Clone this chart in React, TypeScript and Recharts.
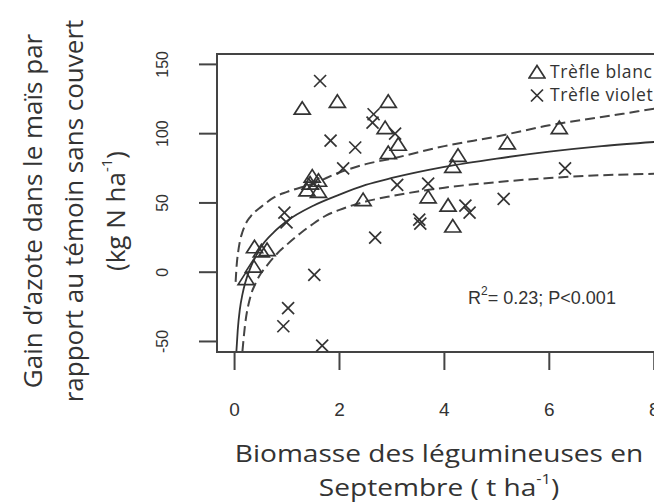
import React from "react";
import {
  ComposedChart,
  Line,
  Scatter,
  XAxis,
  YAxis,
  ReferenceArea,
  Legend,
} from "recharts";

// points (biomass t/ha, N gain kg/ha)
const trefleBlanc = [
  { x: 1.29, y: 118 }, { x: 1.96, y: 123 }, { x: 2.93, y: 123 },
  { x: 2.87, y: 104 }, { x: 3.12, y: 92 }, { x: 2.93, y: 86 },
  { x: 1.48, y: 69 }, { x: 1.6, y: 66 }, { x: 1.44, y: 64 },
  { x: 1.38, y: 59 }, { x: 1.6, y: 58 }, { x: 2.45, y: 52 },
  { x: 3.69, y: 54 }, { x: 4.07, y: 48 }, { x: 4.16, y: 33 },
  { x: 4.16, y: 76 }, { x: 4.26, y: 84 }, { x: 5.2, y: 93 },
  { x: 6.19, y: 104 }, { x: 0.38, y: 18 }, { x: 0.51, y: 15 },
  { x: 0.62, y: 16 }, { x: 0.36, y: 4 }, { x: 0.22, y: -5 },
];

const trefleViolet = [
  { x: 1.63, y: 138 }, { x: 1.83, y: 95 }, { x: 2.3, y: 90 },
  { x: 2.07, y: 75 }, { x: 2.65, y: 114 }, { x: 2.63, y: 108 },
  { x: 3.06, y: 100 }, { x: 3.1, y: 63 }, { x: 3.69, y: 64 },
  { x: 4.4, y: 48 }, { x: 4.48, y: 43 }, { x: 3.52, y: 38 },
  { x: 3.54, y: 35 }, { x: 2.68, y: 25 }, { x: 5.13, y: 53 },
  { x: 6.3, y: 75 }, { x: 1.5, y: 64 }, { x: 0.95, y: 43 },
  { x: 0.99, y: 36 }, { x: 1.52, y: -2 }, { x: 1.02, y: -26 },
  { x: 0.93, y: -39 }, { x: 1.67, y: -53 },
];

// fitted curve and its confidence band, read at these x positions
const fitX = [0.035, 0.06, 0.1, 0.15, 0.2, 0.3, 0.4, 0.5, 0.75, 1, 1.5, 2, 2.5, 3, 4, 5, 6, 7, 8];
const fitY = [-57, -42, -27, -16, -8, 3, 11, 18, 29, 37, 48, 56, 63, 68, 76, 82, 87, 91, 94];

const upperX = [0.02, 0.04, 0.07, 0.1, 0.15, 0.2, 0.3, 0.4, 0.5, 0.75, 1, 1.5, 2, 2.5, 3, 4, 5, 6, 7, 8];
const upperY = [-7, 5, 15, 22, 29, 34, 40, 44, 47, 54, 58, 64, 72, 78, 82, 91, 98, 106, 112, 118];

const lowerX = [0.15, 0.2, 0.3, 0.4, 0.5, 0.6, 0.8, 1, 1.25, 1.5, 1.75, 2, 2.5, 3, 4, 5, 6, 7, 8];
const lowerY = [-57, -38, -18, -8, -1, 4, 13, 20, 28, 35, 41, 45, 51, 55, 61, 65, 68, 70, 71];

const xTicks = [0, 2, 4, 6, 8];
const yTicks = [-50, 0, 50, 100, 150];

const X_DOMAIN: [number, number] = [-0.335, 8.32];
const Y_DOMAIN: [number, number] = [-57.6, 157.5];

const toPoints = (xs: number[], ys: number[]) => xs.map((x, i) => ({ x, y: ys[i] }));

const INK = "#333";
const TITLE_FONT = "'Open Sans', sans-serif";
const TICK_FONT = "'Liberation Sans', Arial, sans-serif";

const Triangle = (props: any) => {
  const { cx, cy } = props;
  return (
    <polygon
      points={`${cx},${cy - 7} ${cx - 8},${cy + 5.5} ${cx + 8},${cy + 5.5}`}
      fill="none"
      stroke={INK}
      strokeWidth={1.7}
    />
  );
};

const Cross = (props: any) => {
  const { cx, cy } = props;
  const r = 6;
  return (
    <g stroke={INK} strokeWidth={1.7}>
      <line x1={cx - r} y1={cy - r} x2={cx + r} y2={cy + r} />
      <line x1={cx - r} y1={cy + r} x2={cx + r} y2={cy - r} />
    </g>
  );
};

const XTick = ({ x, y, payload }: any) => (
  <text x={x} y={y + 37} textAnchor="middle" dominantBaseline="central"
    fontFamily={TICK_FONT} fontSize={19} fill={INK}>
    {payload.value}
  </text>
);

const YTick = ({ x, y, payload }: any) => {
  const tx = x - 34;
  return (
    <text x={tx} y={y} transform={`rotate(-90 ${tx} ${y})`} textAnchor="middle"
      dominantBaseline="central" fontFamily={TICK_FONT} fontSize={16} fill={INK}>
      {payload.value}
    </text>
  );
};

const YTitle = () => {
  const cy = 203;
  const lines = [
    { x: 24, text: "Gain d\u2019azote dans le maïs par" },
    { x: 65, text: "rapport au témoin sans couvert" },
  ];
  return (
    <g fontFamily={TITLE_FONT} fontSize={26} fill={INK}>
      {lines.map((l) => (
        <text key={l.x} x={l.x} y={cy} transform={`rotate(-90 ${l.x} ${cy})`}
          textAnchor="middle" dominantBaseline="central">
          {l.text}
        </text>
      ))}
      <text x={107} y={cy} transform={`rotate(-90 107 ${cy})`} textAnchor="middle"
        dominantBaseline="central">
        (kg N ha<tspan fontSize={15} dy={-9}>-1</tspan><tspan dy={9}>)</tspan>
      </text>
    </g>
  );
};

const XTitle = () => (
  <g fill={INK}>
    <g fontFamily={TITLE_FONT} fontSize={24} textAnchor="middle">
      <text transform="translate(431 445) scale(1.17 1)" dominantBaseline="central">
        Biomasse des légumineuses en
      </text>
      <text transform="translate(431 479) scale(1.17 1)" dominantBaseline="central">
        Septembre ( t ha<tspan fontSize={14} dy={-9}>-1</tspan><tspan dy={9}>)</tspan>
      </text>
    </g>
    <text x={534} y={290} textAnchor="middle" dominantBaseline="central"
      fontFamily={TICK_FONT} fontSize={18}>
      R<tspan fontSize={12} dy={-7}>2</tspan><tspan dy={7}>= 0.23; P&lt;0.001</tspan>
    </text>
  </g>
);

const LegendBox = () => {
  const items = [
    { name: "Trèfle blanc", Icon: Triangle },
    { name: "Trèfle violet", Icon: Cross },
  ];
  return (
    <div style={{ fontFamily: TITLE_FONT, fontSize: 17.5, color: INK, lineHeight: "23px", letterSpacing: 0.6 }}>
      {items.map(({ name, Icon }) => (
        <div key={name} style={{ display: "flex", alignItems: "center", height: 23 }}>
          <svg width={18} height={16} style={{ marginRight: 4 }}>
            <Icon cx={9} cy={8.5} />
          </svg>
          <span style={{ whiteSpace: "nowrap" }}>{name}</span>
        </div>
      ))}
    </div>
  );
};

export default function App() {
  return (
    <div style={{ width: 654, height: 496, overflow: "hidden" }}>
      <ComposedChart width={670} height={496} margin={{ top: 46, right: 7, bottom: 0, left: 0 }}>
        <XAxis
          type="number"
          dataKey="x"
          domain={X_DOMAIN}
          ticks={xTicks}
          allowDataOverflow
          axisLine={false}
          tickSize={18}
          tickLine={{ stroke: "#444", strokeWidth: 2 }}
          tick={<XTick />}
          height={152}
          label={<XTitle />}
        />
        <YAxis
          type="number"
          dataKey="y"
          domain={Y_DOMAIN}
          ticks={yTicks}
          allowDataOverflow
          axisLine={false}
          tickSize={18}
          tickLine={{ stroke: "#444", strokeWidth: 2 }}
          tick={<YTick />}
          width={209}
          label={<YTitle />}
        />
        <ReferenceArea
          x1={X_DOMAIN[0]}
          x2={X_DOMAIN[1]}
          y1={Y_DOMAIN[0]}
          y2={Y_DOMAIN[1]}
          fill="none"
          fillOpacity={0}
          stroke="#444"
          strokeWidth={2}
          ifOverflow="visible"
        />
        <Line data={toPoints(upperX, upperY)} dataKey="y" type="monotone" stroke="#444"
          strokeWidth={2} strokeDasharray="10 5" dot={false} legendType="none" isAnimationActive={false} />
        <Line data={toPoints(lowerX, lowerY)} dataKey="y" type="monotone" stroke="#444"
          strokeWidth={2} strokeDasharray="10 5" dot={false} legendType="none" isAnimationActive={false} />
        <Line data={toPoints(fitX, fitY)} dataKey="y" type="monotone" stroke={INK}
          strokeWidth={1.8} dot={false} legendType="none" isAnimationActive={false} />
        <Scatter name="Trèfle blanc" data={trefleBlanc} dataKey="y" shape={Triangle}
          legendType="triangle" isAnimationActive={false} />
        <Scatter name="Trèfle violet" data={trefleViolet} dataKey="y" shape={Cross}
          legendType="cross" isAnimationActive={false} />
        <Legend
          layout="vertical"
          align="center"
          verticalAlign="middle"
          wrapperStyle={{ position: "absolute", left: 520, top: 52, width: 140 }}
          content={() => <LegendBox />}
        />
      </ComposedChart>
    </div>
  );
}
